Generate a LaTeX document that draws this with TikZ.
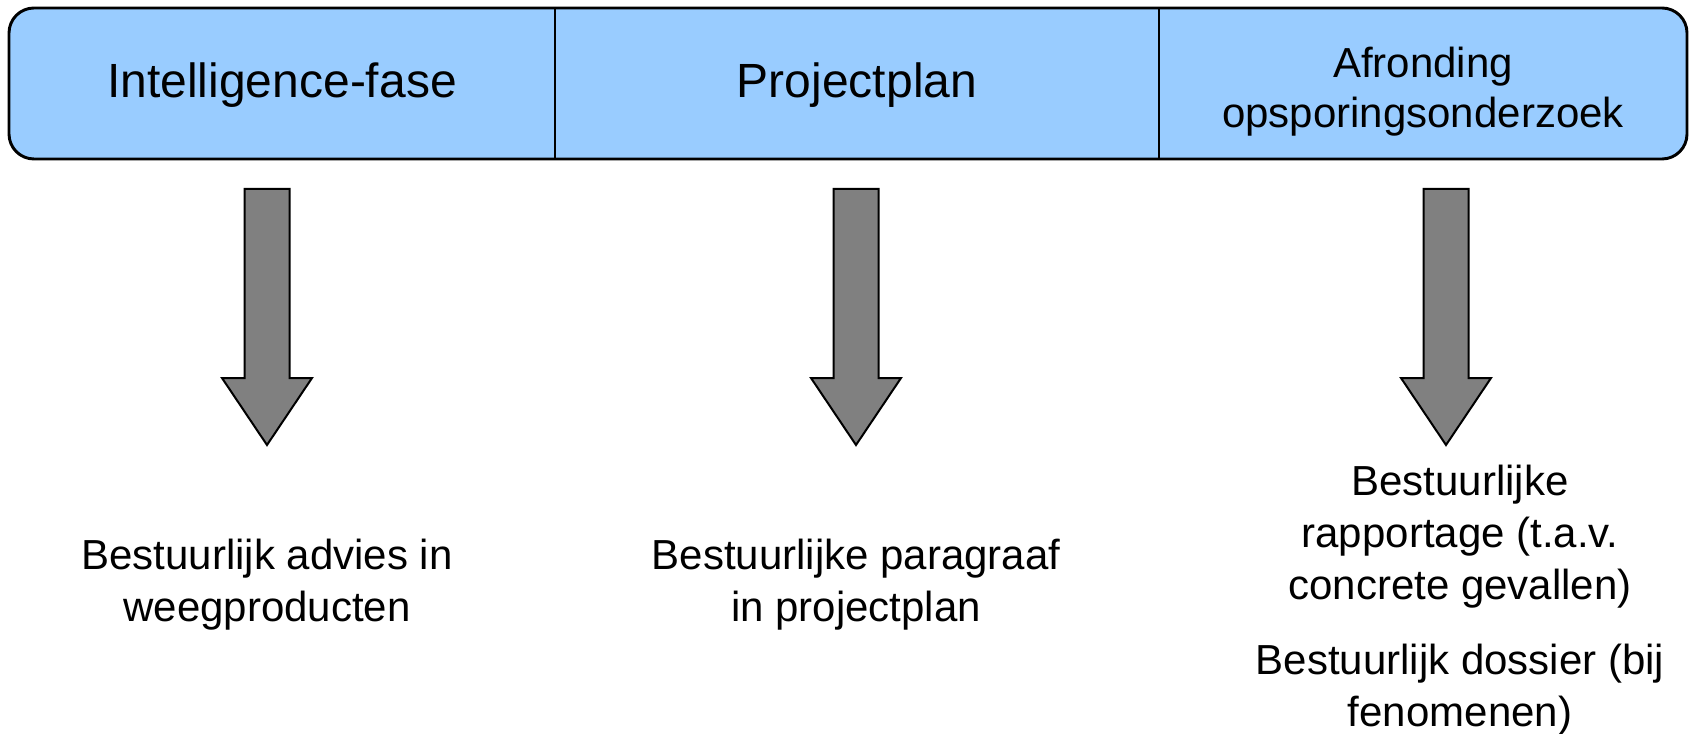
\documentclass[tikz,border=0pt]{standalone}
\usepackage{fontspec}
\setmainfont{Liberation Sans}
\definecolor{barblue}{HTML}{99CCFF}
\definecolor{arrowgray}{HTML}{808080}
\newcommand\blockarrow[2]{%
  \draw[blockarr] ({#1-22.5},189) -- ({#1+22.5},189) -- ({#1+22.5},378) -- ({#1+45},378)
    -- (#1,445) coordinate (#2) -- ({#1-45},378) -- ({#1-22.5},378) -- cycle;}
\begin{document}
\begin{tikzpicture}[x=0.75pt,y=-0.75pt,
  phase/.style={font=\fontsize{36}{43}\selectfont, align=center, text=black, inner sep=0pt},
  phasesmall/.style={font=\fontsize{31.5}{37.5}\selectfont, align=center, text=black, inner sep=0pt},
  outtext/.style={font=\fontsize{31.5}{39}\selectfont, align=center, text=black, inner sep=0pt},
  blockarr/.style={fill=arrowgray, draw=black, line width=1.5pt, line join=miter}]
\useasboundingbox (0,0) rectangle (1694,734);
\draw[fill=barblue, line width=2.2pt, rounded corners=18.75pt] (9,8) rectangle (1687,159);
\draw[line width=1.5pt] (555,8) -- (555,159);
\draw[line width=1.5pt] (1159,8) -- (1159,159);
\node[phase] (p1) at (282,85) {Intelligence-fase};
\node[phase] (p2) at (857,85) {Projectplan};
\node[phasesmall] (p3) at (1423,92) {Afronding\\opsporingsonderzoek};
\blockarrow{267}{t1}
\blockarrow{856}{t2}
\blockarrow{1446}{t3}
\node[outtext] (o1) at (267,585) {Bestuurlijk advies in\\weegproducten};
\node[outtext] (o2) at (856,585) {Bestuurlijke paragraaf\\in projectplan};
\node[outtext] (o3a) at (1460,537) {Bestuurlijke\\rapportage (t.a.v.\\concrete gevallen)};
\node[outtext] (o3b) at (1460,690) {Bestuurlijk dossier (bij\\fenomenen)};
\end{tikzpicture}
\end{document}
